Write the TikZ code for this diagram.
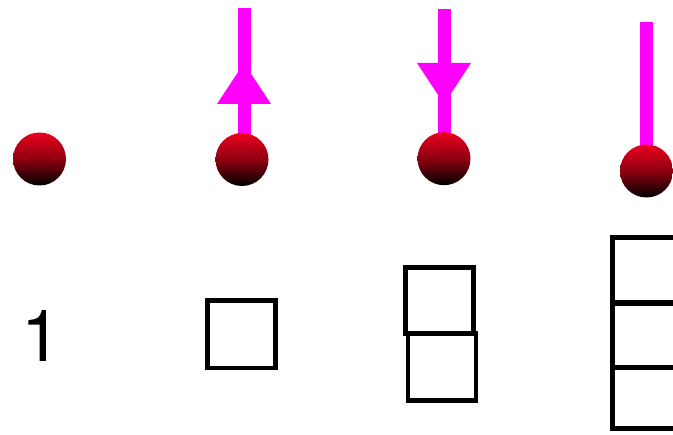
\documentclass[tikz,border=0pt]{standalone}
\usepackage{fontspec}
\setmainfont{TeX Gyre Heros}
\begin{document}
\begin{tikzpicture}[x=1pt,y=-1pt,
  ball/.style={circle,minimum size=53pt,inner sep=0pt,top color=ballred,bottom color=black,middle color=ballred!60!black},
  stem/.style={draw=magenta,line width=13pt},
  head/.style={fill=magenta},
  cell/.style={draw=black,line width=4.8pt}]
\definecolor{ballred}{RGB}{235,0,28}
\definecolor{magenta}{RGB}{255,0,255}
\useasboundingbox (0,0) rectangle (673,435);
% stems
\coordinate (t2) at (244.3,8);
\coordinate (t3) at (444.3,9);
\coordinate (t4) at (646.7,22);
\draw[stem] (244.3,159.5) -- (t2);
\draw[stem] (444.3,158.7) -- (t3);
\draw[stem] (646.7,171) -- (t4);
% arrow heads
\fill[head] (244,63) -- (271,104) -- (217,104) -- cycle;
\fill[head] (444,104) -- (471,63) -- (417,63) -- cycle;
% balls
\node[ball] (b1) at (39.5,159) {};
\node[ball] (b2) at (242,159.5) {};
\node[ball] (b3) at (444,158.7) {};
\node[ball] (b4) at (646.5,171) {};
% labels / boxes
\node[font=\fontsize{72}{72}\selectfont,inner sep=0pt] (one) at (42,336) {1};
\draw[cell] (207.5,300.8) rectangle (275.8,368);
\draw[cell] (405.6,267.4) rectangle (473.4,333.4);
\draw[cell] (408,333.4) rectangle (476,400.3);
\draw[cell] (612.8,237.8) rectangle (681,302);
\draw[cell] (612.8,303.8) rectangle (681,367);
\draw[cell] (612.8,367.8) rectangle (681,428.5);
\end{tikzpicture}
\end{document}
